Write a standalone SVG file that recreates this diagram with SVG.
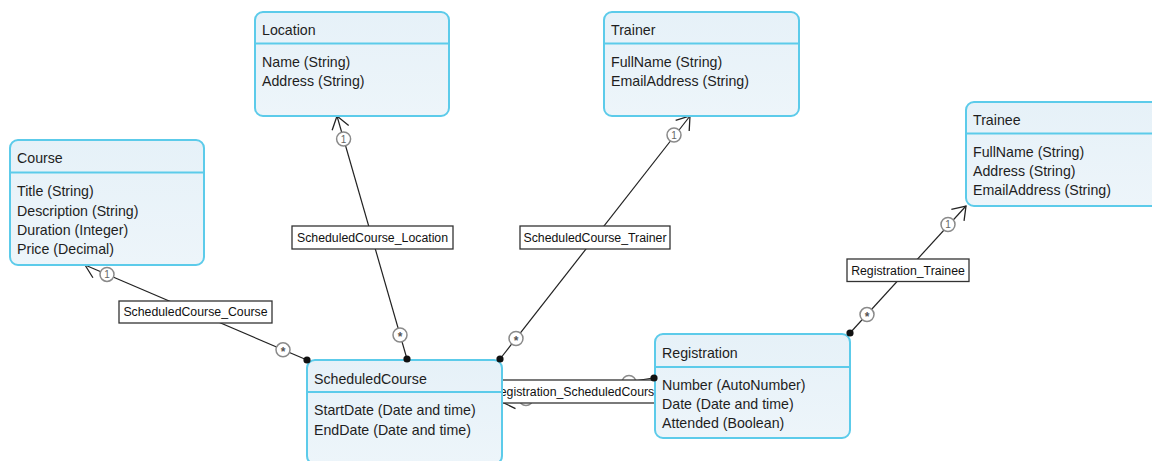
<svg xmlns="http://www.w3.org/2000/svg" width="1152" height="461" viewBox="0 0 1152 461">
<defs>
<linearGradient id="boxfill" x1="0" y1="0" x2="0" y2="1">
<stop offset="0" stop-color="#E6F1F8"/>
<stop offset="1" stop-color="#EDF5FA"/>
</linearGradient>
<marker id="arr" markerUnits="userSpaceOnUse" orient="auto" viewBox="-15 -10 17 20" refX="0" refY="0" markerWidth="17" markerHeight="20">
<path d="M-12.3,-8.6 L0,0 L-12.3,8.6" fill="none" stroke="#222" stroke-width="1.3"/>
</marker>
<style>
.box{fill:url(#boxfill);stroke:#5CCBEA;stroke-width:2}
.div{stroke:#5CCBEA;stroke-width:2}
.t{font-family:"Liberation Sans",Arial,sans-serif;font-size:14.2px;fill:#1E1E1E}
.line{stroke:#222;stroke-width:1.2;fill:none}
.lbl{fill:#fff;stroke:#333;stroke-width:1.3}
.lt{font-family:"Liberation Sans",Arial,sans-serif;font-size:12.3px;fill:#111;text-anchor:middle}
.m{fill:#fff;stroke:#8A8A8A;stroke-width:1.5}
.mt{font-family:"Liberation Sans",Arial,sans-serif;font-size:10px;fill:#666;text-anchor:middle}
.ms{font-family:"Liberation Sans",Arial,sans-serif;font-size:12px;font-weight:bold;fill:#555;text-anchor:middle}
.dot{fill:#111}
</style>
</defs>
<rect width="1152" height="461" fill="#fff"/>

<g id="connectors">
<line class="line" x1="307" y1="360" x2="85" y2="265" marker-end="url(#arr)"/>
<line class="line" x1="407" y1="359" x2="337" y2="116" marker-end="url(#arr)"/>
<line class="line" x1="500" y1="359" x2="690" y2="116" marker-end="url(#arr)"/>
<line class="line" x1="850" y1="333" x2="966" y2="206" marker-end="url(#arr)"/>
<line class="line" x1="653" y1="378" x2="502" y2="402" marker-end="url(#arr)"/>

<circle class="m" cx="107" cy="274.4" r="7"/><text class="mt" x="107" y="278">1</text>
<circle class="m" cx="283" cy="349.8" r="7"/><text class="ms" x="283" y="356">*</text>
<circle class="m" cx="343.6" cy="139" r="7"/><text class="mt" x="343.6" y="142.6">1</text>
<circle class="m" cx="400" cy="335" r="7"/><text class="ms" x="400" y="341.2">*</text>
<circle class="m" cx="674" cy="135" r="7"/><text class="mt" x="674" y="138.6">1</text>
<circle class="m" cx="516" cy="338.5" r="7"/><text class="ms" x="516" y="344.7">*</text>
<circle class="m" cx="948" cy="224.5" r="7"/><text class="mt" x="948" y="228.1">1</text>
<circle class="m" cx="867" cy="314.6" r="7"/><text class="ms" x="867" y="320.8">*</text>
<circle class="m" cx="526" cy="398.5" r="7"/>
<circle class="m" cx="629" cy="382.5" r="7"/>

<rect class="lbl" x="119" y="301" width="153" height="22"/>
<text class="lt" x="195.5" y="316.4">ScheduledCourse_Course</text>
<rect class="lbl" x="292" y="226" width="161" height="23"/>
<text class="lt" x="372.5" y="241.8">ScheduledCourse_Location</text>
<rect class="lbl" x="520" y="226" width="150" height="23"/>
<text class="lt" x="595" y="241.8">ScheduledCourse_Trainer</text>
<rect class="lbl" x="847" y="259" width="122" height="22.5"/>
<text class="lt" x="908" y="274.6">Registration_Trainee</text>
<rect class="lbl" x="485" y="380" width="181" height="23"/>
<text class="lt" x="576" y="395.8">Registration_ScheduledCourse</text>
</g>

<g id="node-course">
<rect class="box" x="10" y="140" width="194" height="125" rx="8"/>
<line class="div" x1="10" y1="172.5" x2="204" y2="172.5"/>
<text class="t" x="17" y="163">Course</text>
<text class="t" x="17" y="196">Title (String)</text>
<text class="t" x="17" y="215.5">Description (String)</text>
<text class="t" x="17" y="234.5">Duration (Integer)</text>
<text class="t" x="17" y="253.5">Price (Decimal)</text>
</g>

<g id="node-location">
<rect class="box" x="255" y="12" width="194" height="104" rx="8"/>
<line class="div" x1="255" y1="43.5" x2="449" y2="43.5"/>
<text class="t" x="262" y="34.5">Location</text>
<text class="t" x="262" y="66.5">Name (String)</text>
<text class="t" x="262" y="86">Address (String)</text>
</g>

<g id="node-trainer">
<rect class="box" x="604" y="12" width="195" height="104" rx="8"/>
<line class="div" x1="604" y1="43.5" x2="799" y2="43.5"/>
<text class="t" x="611" y="34.5">Trainer</text>
<text class="t" x="611" y="66.5">FullName (String)</text>
<text class="t" x="611" y="86">EmailAddress (String)</text>
</g>

<g id="node-trainee">
<rect class="box" x="966" y="102" width="195" height="104" rx="8"/>
<line class="div" x1="966" y1="133.5" x2="1161" y2="133.5"/>
<text class="t" x="973" y="124.5">Trainee</text>
<text class="t" x="973" y="157">FullName (String)</text>
<text class="t" x="973" y="176">Address (String)</text>
<text class="t" x="973" y="195">EmailAddress (String)</text>
</g>

<g id="node-scheduledcourse">
<rect class="box" x="307" y="360" width="195" height="104" rx="8"/>
<line class="div" x1="307" y1="392" x2="502" y2="392"/>
<text class="t" x="314" y="383.5">ScheduledCourse</text>
<text class="t" x="314" y="415">StartDate (Date and time)</text>
<text class="t" x="314" y="434.5">EndDate (Date and time)</text>
</g>

<g id="node-registration">
<rect class="box" x="655" y="334" width="195" height="104" rx="8"/>
<line class="div" x1="655" y1="367" x2="850" y2="367"/>
<text class="t" x="662" y="357.5">Registration</text>
<text class="t" x="662" y="389.5">Number (AutoNumber)</text>
<text class="t" x="662" y="408.5">Date (Date and time)</text>
<text class="t" x="662" y="428">Attended (Boolean)</text>
</g>

<g id="connector-ends">
<circle class="dot" cx="307" cy="360" r="3.6"/>
<circle class="dot" cx="407" cy="359" r="3.6"/>
<circle class="dot" cx="500" cy="359" r="3.6"/>
<circle class="dot" cx="850" cy="333" r="3.6"/>
<circle class="dot" cx="654" cy="378" r="3.6"/>
</g>
</svg>
